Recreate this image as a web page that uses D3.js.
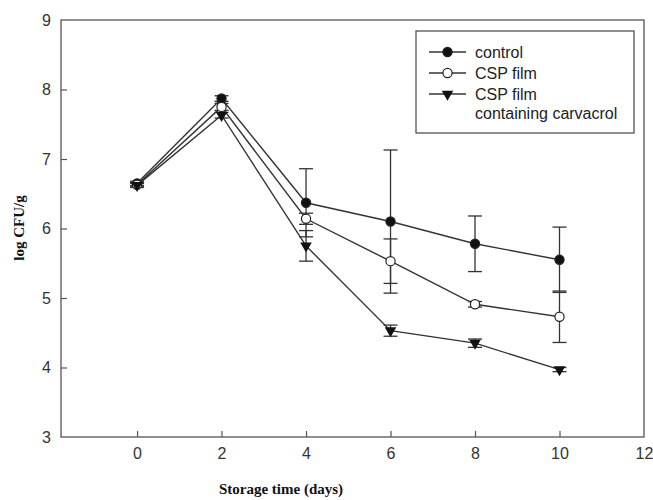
<!DOCTYPE html>
<html>
<head>
<meta charset="utf-8">
<script src="https://cdn.jsdelivr.net/npm/d3@7"></script>
<style>
  body { margin: 0; background: #fff; }
  svg { display: block; }
  .tick text { font-family: "Liberation Sans", Arial, sans-serif; font-size: 16px; fill: #333; }
  .axis-title { font-family: "Liberation Serif", "Times New Roman", serif; font-size: 15px; font-weight: bold; fill: #111; }
  .legend text { font-family: "Liberation Sans", Arial, sans-serif; font-size: 16px; fill: #222; }
</style>
</head>
<body>
<svg width="653" height="500"></svg>
<script>
// storage days
var days = [0, 2, 4, 6, 8, 10]

// log CFU/g
var control = [6.65, 7.87, 6.37, 6.10, 5.78, 5.55]
var controlErr = [0.03, 0.04, 0.49, 1.03, 0.40, 0.47]

var cspFilm = [6.63, 7.75, 6.14, 5.53, 4.91, 4.73]
var cspFilmErr = [0.03, 0.05, 0.08, 0.32, 0.04, 0.37]

var carvacrol = [6.62, 7.63, 5.75, 4.53, 4.35, 3.97]
var carvacrolErr = [0.03, 0.04, 0.22, 0.08, 0.06, 0.03]

var xTicks = [0, 2, 4, 6, 8, 10, 12]
var yTicks = [3, 4, 5, 6, 7, 8, 9]

var seriesNames = ["control", "CSP film", "CSP film\ncontaining carvacrol"]

var svg = d3.select("svg")
// plot box edges (window.top is reserved, so prefixed names)
var pLeft = 61, pRight = 644, pTop = 20, pBottom = 437

var x = d3.scaleLinear().domain([-1.8, 12]).range([pLeft, pRight])
var y = d3.scaleLinear().domain([3, 9]).range([pBottom, pTop])

var lineColor = "#333"

// frame
svg.append("rect")
    .attr("x", pLeft).attr("y", pTop)
    .attr("width", pRight - pLeft).attr("height", pBottom - pTop)
    .attr("fill", "none").attr("stroke", "#555").attr("stroke-width", 1.3)

// axes, ticks pointing inward
var xAxis = svg.append("g")
    .attr("transform", "translate(0," + pBottom + ")")
    .call(d3.axisBottom(x).tickValues(xTicks).tickFormat(d3.format("d"))
        .tickSizeInner(-6).tickSizeOuter(0).tickPadding(11))
xAxis.select(".domain").remove()
xAxis.selectAll(".tick line").attr("stroke", "#555").attr("stroke-width", 1.2)
// 12 sits on the right border, no tick line there
xAxis.selectAll(".tick").filter(function (d) { return d === 12 }).select("line").remove()

var yAxis = svg.append("g")
    .attr("transform", "translate(" + pLeft + ",0)")
    .call(d3.axisLeft(y).tickValues(yTicks).tickFormat(d3.format("d"))
        .tickSizeInner(-6).tickSizeOuter(0).tickPadding(10))
yAxis.select(".domain").remove()
yAxis.selectAll(".tick line").attr("stroke", "#555").attr("stroke-width", 1.2)
yAxis.selectAll(".tick").filter(function (d) { return d === 3 || d === 9 }).select("line").remove()

// axis titles
svg.append("text").attr("class", "axis-title")
    .attr("x", 281).attr("y", 494)
    .attr("text-anchor", "middle")
    .text("Storage time (days)")

svg.append("text").attr("class", "axis-title")
    .attr("transform", "translate(24,228) rotate(-90)")
    .attr("text-anchor", "middle")
    .text("log CFU/g")

var series = [
    { name: seriesNames[0], vals: control, err: controlErr, marker: "filled" },
    { name: seriesNames[1], vals: cspFilm, err: cspFilmErr, marker: "open" },
    { name: seriesNames[2], vals: carvacrol, err: carvacrolErr, marker: "tri" }
]

var line = d3.line()
    .x(function (d) { return x(d[0]) })
    .y(function (d) { return y(d[1]) })

function drawMarker(g, type) {
    if (type === "tri") {
        g.append("path")
            .attr("d", d3.symbol().type(d3.symbolTriangle).size(58))
            .attr("transform", "rotate(180)")
            .attr("fill", "#111")
    } else {
        g.append("circle").attr("r", 4.6)
            .attr("fill", type === "filled" ? "#111" : "#fff")
            .attr("stroke", "#222").attr("stroke-width", 1.2)
    }
}

// error bars first, then lines and markers on top
series.forEach(function (s) {
    var eg = svg.append("g").attr("stroke", lineColor).attr("stroke-width", 1.3)
    s.vals.forEach(function (v, i) {
        var cx = x(days[i])
        var y1 = y(v + s.err[i]), y2 = y(v - s.err[i])
        eg.append("line").attr("x1", cx).attr("x2", cx).attr("y1", y1).attr("y2", y2)
        eg.append("line").attr("x1", cx - 7).attr("x2", cx + 7).attr("y1", y1).attr("y2", y1)
        eg.append("line").attr("x1", cx - 7).attr("x2", cx + 7).attr("y1", y2).attr("y2", y2)
    })
})

series.forEach(function (s) {
    var pts = days.map(function (d, i) { return [d, s.vals[i]] })
    svg.append("path")
        .attr("d", line(pts))
        .attr("fill", "none")
        .attr("stroke", lineColor)
        .attr("stroke-width", 1.4)
})

series.forEach(function (s) {
    s.vals.forEach(function (v, i) {
        var g = svg.append("g").attr("transform", "translate(" + x(days[i]) + "," + y(v) + ")")
        drawMarker(g, s.marker)
    })
})

// legend
var lg = svg.append("g").attr("class", "legend")
lg.append("rect")
    .attr("x", 416).attr("y", 31).attr("width", 218).attr("height", 102)
    .attr("fill", "#fff").attr("stroke", "#444").attr("stroke-width", 1.2)

var rowY = [52, 73, 94]
series.forEach(function (s, i) {
    var row = lg.append("g").attr("transform", "translate(0," + rowY[i] + ")")
    row.append("line").attr("x1", 429).attr("x2", 466).attr("y1", 0).attr("y2", 0)
        .attr("stroke", lineColor).attr("stroke-width", 1.4)
    var m = row.append("g").attr("transform", "translate(447.5,0)")
    drawMarker(m, s.marker)
    var t = row.append("text").attr("x", 475).attr("y", 6)
    s.name.split("\n").forEach(function (part, k) {
        t.append("tspan").attr("x", 475).attr("dy", k === 0 ? 0 : 19).text(part)
    })
})
</script>
</body>
</html>
